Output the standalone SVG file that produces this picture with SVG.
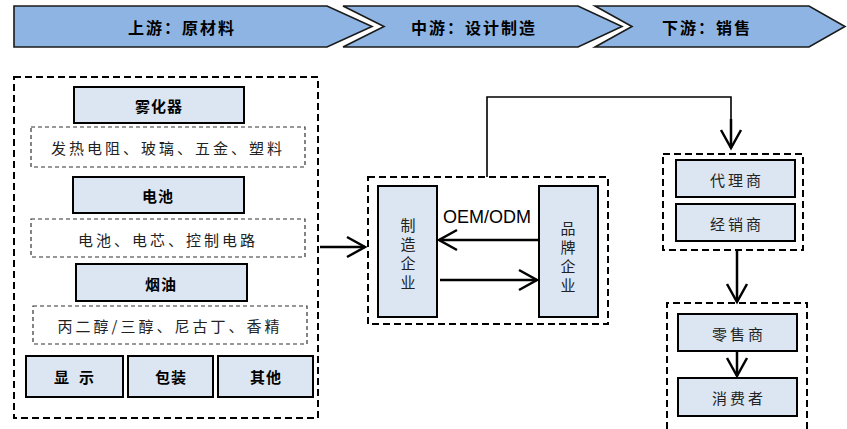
<svg xmlns="http://www.w3.org/2000/svg" width="847" height="429" viewBox="0 0 847 429">
<defs>
<style>
.band{fill:#8DB4E2;stroke:#1a1a1a;stroke-width:1.6}
.bt{font-family:"Noto Sans CJK SC","Noto Sans",sans-serif;font-weight:bold;font-size:16px;fill:#000;text-anchor:middle;dominant-baseline:central;letter-spacing:2px}
.outer{fill:none;stroke:#000;stroke-width:2;stroke-dasharray:7 4}
.inner{fill:none;stroke:#333;stroke-width:1.2;stroke-dasharray:4 3}
.box{fill:#DCE6F2;stroke:#000;stroke-width:2}
.tb{font-family:"Noto Sans CJK SC","Noto Sans",sans-serif;font-weight:bold;font-size:15px;fill:#000;text-anchor:middle;dominant-baseline:central;letter-spacing:1px}
.tn{font-family:"Noto Sans CJK SC","Noto Sans",sans-serif;font-weight:normal;font-size:15px;fill:#222;text-anchor:middle;dominant-baseline:central;letter-spacing:3px}
.con{fill:none;stroke:#000;stroke-width:2.5}
.thin{fill:none;stroke:#000;stroke-width:1.6}
</style>
<marker id="ah" markerUnits="userSpaceOnUse" markerWidth="24" markerHeight="24" viewBox="-20 -12 24 24" refX="0" refY="0" orient="auto" overflow="visible">
<path d="M-18,-10 L0,0 L-18,10" fill="none" stroke="#000" stroke-width="2.5"/>
</marker>
</defs>
<rect width="847" height="429" fill="#fff"/>

<g id="banner">
<path class="band" d="M14,6 H327 L372,26.5 L327,47 H14 Z"/>
<path class="band" d="M343,6 H578 L622,26.5 L578,47 H343 L384,26.5 Z"/>
<path class="band" d="M595,6 H809 L845,26.5 L809,47 H595 L632,26.5 Z"/>
<text class="bt" x="182" y="27">上游：原材料</text>
<text class="bt" x="474" y="27">中游：设计制造</text>
<text class="bt" x="707" y="27">下游：销售</text>
</g>

<g id="upstream">
<rect class="outer" x="14" y="77" width="304" height="341"/>
<g id="atomizer"><rect class="box" x="74" y="87" width="170" height="36"/><text class="tb" x="159" y="105">雾化器</text></g>
<g id="atomizer-parts"><rect class="inner" x="31" y="127" width="274" height="40"/><text class="tn" x="168" y="147">发热电阻、玻璃、五金、塑料</text></g>
<g id="battery"><rect class="box" x="73" y="177" width="171" height="36"/><text class="tb" x="158" y="195">电池</text></g>
<g id="battery-parts"><rect class="inner" x="31" y="219" width="274" height="38"/><text class="tn" x="168" y="239">电池、电芯、控制电路</text></g>
<g id="eliquid"><rect class="box" x="76" y="264" width="171" height="37"/><text class="tb" x="161" y="283">烟油</text></g>
<g id="eliquid-parts"><rect class="inner" x="33" y="306" width="274" height="38"/><text class="tn" x="170" y="325">丙二醇/三醇、尼古丁、香精</text></g>
<g id="display"><rect class="box" x="26" y="356" width="97" height="41"/><text class="tb" x="74" y="376" style="letter-spacing:0" xml:space="preserve">显   示</text></g>
<g id="package"><rect class="box" x="128" y="356" width="85" height="41"/><text class="tb" x="171" y="376">包装</text></g>
<g id="other"><rect class="box" x="218" y="356" width="95" height="41"/><text class="tb" x="266" y="376">其他</text></g>
</g>

<g id="midstream">
<rect class="outer" x="368" y="177" width="240" height="147"/>
<g id="maker"><rect class="box" x="378" y="186" width="59" height="131"/>
<text class="tn" x="408" y="224" style="letter-spacing:0">制</text>
<text class="tn" x="408" y="243" style="letter-spacing:0">造</text>
<text class="tn" x="408" y="262" style="letter-spacing:0">企</text>
<text class="tn" x="408" y="281" style="letter-spacing:0">业</text></g>
<g id="brand"><rect class="box" x="539" y="186" width="59" height="131"/>
<text class="tn" x="568" y="227" style="letter-spacing:0">品</text>
<text class="tn" x="568" y="246" style="letter-spacing:0">牌</text>
<text class="tn" x="568" y="265" style="letter-spacing:0">企</text>
<text class="tn" x="568" y="284" style="letter-spacing:0">业</text></g>
</g>

<g id="downstream">
<rect class="outer" x="663" y="154" width="140" height="96"/>
<g id="agent"><rect class="box" x="676" y="160" width="119" height="37"/><text class="tn" x="737" y="179">代理商</text></g>
<g id="dealer"><rect class="box" x="676" y="204" width="119" height="37"/><text class="tn" x="737" y="223">经销商</text></g>
<path class="outer" d="M667,429 V303 H807 V429"/>
<g id="retailer"><rect class="box" x="678" y="314" width="119" height="37"/><text class="tn" x="739" y="333">零售商</text></g>
<g id="consumer"><rect class="box" x="678" y="378" width="119" height="38"/><text class="tn" x="739" y="397">消费者</text></g>
</g>

<g id="connectors">
<path class="con" d="M320,247 H365" marker-end="url(#ah)"/>
<path class="con" d="M538,240 H439" marker-end="url(#ah)"/>
<path class="con" d="M440,280 H537" marker-end="url(#ah)"/>
<text x="487" y="223" font-family="Liberation Sans, Arial, sans-serif" font-size="18" text-anchor="middle" fill="#000">OEM/ODM</text>
<path class="thin" d="M487,177 V97 H731 V120"/>
<path class="con" d="M731,119 V148" marker-end="url(#ah)"/>
<path class="con" d="M737,250 V302" marker-end="url(#ah)"/>
<path class="con" d="M737,351 V376" marker-end="url(#ah)"/>
</g>
</svg>
